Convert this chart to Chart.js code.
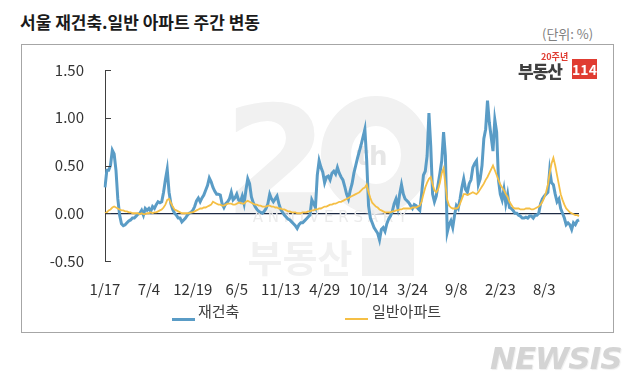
<!DOCTYPE html>
<html>
<head>
<meta charset="utf-8">
<script src="https://cdn.jsdelivr.net/npm/chart.js@4"></script>
<style>
  body { margin: 0; background: #fff; }
  #wrap { position: relative; width: 640px; height: 390px; overflow: hidden; font-family: "Noto Sans CJK KR", "Noto Sans", sans-serif; }
  #title { position: absolute; left: 20px; top: 9px; font-size: 17px; font-weight: bold; color: #1a1a1a; }
  #unit { position: absolute; left: 542px; top: 24px; font-size: 13px; color: #808080; }
  #box { position: absolute; left: 21px; top: 44px; width: 591px; height: 287px; border: 1px solid #a6a6a6; }
  #chart { position: absolute; left: 0; top: 0; }
  .lg-line { position: absolute; height: 3px; }
  .lg-text { position: absolute; font-size: 15px; color: #404040; }
  #logo20 { position: absolute; left: 541px; top: 50px; font-size: 9px; font-weight: bold; color: #e03c31; }
  #logoTxt { position: absolute; left: 518px; top: 58px; font-size: 17px; font-weight: 900; color: #3f3f3f; letter-spacing: -1px; }
  #logo114 { position: absolute; left: 572px; top: 59px; width: 25px; height: 20px; background: #e03c31; color: #fff; font-size: 14px; font-weight: bold; text-align: center; line-height: 20px; }
  #newsis { position: absolute; left: 490px; top: 340px; font-family: "DejaVu Sans", sans-serif; font-size: 31px; font-weight: bold; font-style: italic; color: #d4d4d4; letter-spacing: -1px; text-shadow: 1px 1px 1px #eee; }
</style>
</head>
<body>
<div id="wrap">
  <div id="title">서울 재건축.일반 아파트 주간 변동</div>
  <div id="unit">(단위: %)</div>
  <div id="box"></div>
  <canvas id="chart" width="640" height="390"></canvas>
  <div id="logo20">20주년</div>
  <div id="logoTxt">부동산</div>
  <div id="logo114">114</div>
  <div class="lg-line" style="left:172px; top:318px; width:23px; background:#5a9cc6;"></div>
  <div class="lg-text" style="left:198px; top:300px;">재건축</div>
  <div class="lg-line" style="left:345px; top:318px; width:23px; height:2px; background:#f5bf45;"></div>
  <div class="lg-text" style="left:372px; top:300px;">일반아파트</div>
  <div id="newsis">NEWSIS</div>
</div>
<script>
// 데이터
const tickLabels = ['1/17', '7/4', '12/19', '6/5', '11/13', '4/29', '10/14', '3/24', '9/8', '2/23', '8/3'];
const seriesNames = ['재건축', '일반아파트'];

const reconstruction = [
    0.27, 0.45, 0.45, 0.50, 0.66, 0.62, 0.45, 0.15, -0.02, -0.11,
    -0.13, -0.12, -0.10, -0.08, -0.07, -0.05, -0.05, -0.03, -0.01, 0.00,
    0.03, -0.02, 0.05, 0.03, 0.05, 0.02, 0.07, 0.05, 0.09, 0.12,
    0.11, 0.12, 0.22, 0.35, 0.46, 0.22, 0.10, 0.04, 0.00, -0.02,
    -0.05, -0.05, -0.09, -0.07, -0.05, -0.02, 0.00, 0.01, 0.03, 0.07,
    0.13, 0.16, 0.12, 0.16, 0.19, 0.24, 0.29, 0.37, 0.33, 0.27,
    0.23, 0.20, 0.20, 0.19, 0.10, 0.06, 0.10, 0.12, 0.15, 0.22,
    0.14, 0.16, 0.20, 0.14, 0.12, 0.18, 0.10, 0.24, 0.36, 0.31,
    0.17, 0.11, 0.07, 0.04, 0.02, 0.01, 0.00, 0.02, 0.05, 0.10,
    0.20, 0.15, 0.12, 0.15, 0.18, 0.10, 0.04, 0.01, -0.02, -0.04,
    -0.06, -0.07, -0.09, -0.11, -0.13, -0.16, -0.12, -0.10, -0.10, -0.08,
    -0.06, -0.04, -0.02, 0.14, 0.10, 0.06, 0.40, 0.55, 0.48, 0.43,
    0.32, 0.38, 0.39, 0.35, 0.42, 0.44, 0.41, 0.48, 0.42, 0.38,
    0.35, 0.28, 0.20, 0.15, 0.24, 0.31, 0.42, 0.50, 0.58, 0.65,
    0.72, 0.80, 0.88, 0.55, 0.08, -0.05, -0.10, -0.15, -0.18, -0.21,
    -0.28, -0.17, -0.15, -0.19, -0.11, -0.06, -0.03, 0.02, 0.10, 0.15,
    0.06, 0.20, 0.30, 0.20, 0.15, 0.13, 0.11, 0.08, 0.05, 0.09,
    0.08, 0.05, 0.03, 0.20, 0.40, 0.44, 0.60, 1.05, 0.70, 0.20,
    0.12, 0.18, 0.30, 0.42, 0.55, 0.85, 0.60, -0.20, -0.12, -0.08,
    -0.15, -0.02, 0.08, 0.05, 0.15, 0.27, 0.36, 0.25, 0.22, 0.31,
    0.35, 0.48, 0.52, 0.55, 0.30, 0.36, 0.50, 0.78, 0.88, 1.18,
    0.95, 0.80, 0.65, 0.98, 0.85, 0.35, 0.20, 0.14, 0.25, 0.10,
    0.20, 0.06, 0.05, 0.03, 0.00, 0.00, -0.02, -0.03, -0.05, -0.05,
    -0.04, -0.05, -0.03, -0.03, -0.05, -0.02, -0.02, 0.00, 0.10, 0.15,
    0.18, 0.20, 0.22, 0.45, 0.32, 0.30, 0.20, 0.12, 0.15, 0.05,
    0.00, -0.05, -0.12, -0.10, -0.12, -0.17, -0.10, -0.12, -0.08, -0.07
];

const apartment = [
    0.00, 0.01, 0.03, 0.04, 0.06, 0.07, 0.06, 0.05, 0.04, 0.03,
    0.03, 0.02, 0.02, 0.01, 0.01, 0.00, 0.00, 0.00, 0.00, -0.01,
    0.00, -0.01, -0.01, 0.00, 0.00, 0.01, 0.00, 0.01, 0.01, 0.02,
    0.03, 0.04, 0.06, 0.09, 0.14, 0.15, 0.11, 0.07, 0.04, 0.03,
    0.02, 0.01, 0.00, 0.00, 0.00, 0.00, 0.00, 0.01, 0.01, 0.02,
    0.03, 0.04, 0.05, 0.05, 0.06, 0.06, 0.07, 0.08, 0.09, 0.12,
    0.11, 0.10, 0.09, 0.09, 0.08, 0.08, 0.09, 0.10, 0.10, 0.10,
    0.09, 0.09, 0.10, 0.11, 0.11, 0.10, 0.10, 0.12, 0.13, 0.12,
    0.11, 0.10, 0.09, 0.09, 0.08, 0.08, 0.07, 0.07, 0.07, 0.08,
    0.08, 0.07, 0.07, 0.06, 0.06, 0.05, 0.05, 0.04, 0.04, 0.03,
    0.02, 0.02, 0.01, 0.01, 0.01, 0.00, 0.00, 0.00, 0.01, 0.01,
    0.01, 0.02, 0.02, 0.03, 0.03, 0.04, 0.04, 0.05, 0.05, 0.06,
    0.07, 0.07, 0.08, 0.09, 0.09, 0.10, 0.10, 0.11, 0.12, 0.12,
    0.13, 0.14, 0.15, 0.16, 0.17, 0.18, 0.19, 0.20, 0.21, 0.22,
    0.24, 0.26, 0.27, 0.30, 0.22, 0.16, 0.11, 0.09, 0.07, 0.06,
    0.04, 0.03, 0.02, 0.01, 0.01, 0.01, 0.01, 0.02, 0.02, 0.03,
    0.03, 0.04, 0.04, 0.05, 0.05, 0.05, 0.05, 0.05, 0.06, 0.06,
    0.06, 0.07, 0.08, 0.12, 0.20, 0.27, 0.32, 0.36, 0.38, 0.30,
    0.24, 0.22, 0.25, 0.32, 0.42, 0.47, 0.30, 0.14, 0.08, 0.06,
    0.05, 0.05, 0.05, 0.06, 0.10, 0.15, 0.20, 0.20, 0.19, 0.20,
    0.21, 0.22, 0.21, 0.20, 0.22, 0.25, 0.28, 0.31, 0.35, 0.38,
    0.42, 0.46, 0.50, 0.45, 0.40, 0.35, 0.30, 0.27, 0.24, 0.20,
    0.17, 0.12, 0.09, 0.06, 0.05, 0.05, 0.05, 0.04, 0.04, 0.04,
    0.05, 0.05, 0.05, 0.04, 0.04, 0.05, 0.06, 0.07, 0.09, 0.12,
    0.16, 0.22, 0.30, 0.42, 0.52, 0.58, 0.50, 0.40, 0.30, 0.20,
    0.14, 0.09, 0.05, 0.03, 0.01, 0.00, -0.01, -0.02, -0.02, -0.03
];

const yTicks = [-0.5, 0, 0.5, 1.0, 1.5];

// 카테고리 라벨: 24주마다 표시
const labels = reconstruction.map((v, i) => (i % 24 === 0 && tickLabels[i / 24]) ? tickLabels[i / 24] : '');

// 배경 워터마크
const watermarkPlugin = {
    id: 'watermark',
    beforeDatasetsDraw(chart) {
        const ctx = chart.ctx;
        ctx.save();
        ctx.fillStyle = '#f1f1f1';
        ctx.strokeStyle = '#f1f1f1';
        ctx.textAlign = 'center';
        ctx.textBaseline = 'alphabetic';
        ctx.font = 'bold 150px "DejaVu Sans"';
        ctx.fillText('2', 276, 213);
        ctx.lineWidth = 30;
        ctx.beginPath();
        ctx.ellipse(376, 155, 40, 44, 0, 0, Math.PI * 2);
        ctx.stroke();
        ctx.fillStyle = '#e6e6e6';
        ctx.font = 'bold 26px "DejaVu Sans"';
        ctx.fillText('th', 372, 165);
        ctx.fillStyle = '#ebebeb';
        ctx.font = '15px "DejaVu Sans"';
        ctx.fillText('A N N I V E R S A R Y', 330, 222);
        ctx.fillStyle = '#f1f1f1';
        ctx.font = 'bold 38px "Noto Sans CJK KR"';
        ctx.fillText('부동산', 300, 272);
        ctx.fillRect(362, 238, 52, 38);
        ctx.restore();
    }
};

// y축 안쪽 눈금
const innerTicksPlugin = {
    id: 'innerTicks',
    afterDraw(chart) {
        const ctx = chart.ctx;
        const y = chart.scales.y;
        ctx.save();
        ctx.strokeStyle = '#404040';
        ctx.lineWidth = 1;
        yTicks.forEach(v => {
            const py = Math.round(y.getPixelForValue(v)) + 0.5;
            ctx.beginPath();
            ctx.moveTo(y.right, py);
            ctx.lineTo(y.right + 6, py);
            ctx.stroke();
        });
        ctx.restore();
    }
};

const config = {
    type: 'line',
    data: {
        labels: labels,
        datasets: [
            {
                label: seriesNames[0],
                data: reconstruction,
                borderColor: '#5a9cc6',
                borderWidth: 3,
                pointRadius: 0,
                tension: 0,
                order: 2
            },
            {
                label: seriesNames[1],
                data: apartment,
                borderColor: '#f5bf45',
                borderWidth: 1.8,
                pointRadius: 0,
                tension: 0,
                order: 1
            }
        ]
    },
    options: {
        responsive: false,
        animation: false,
        devicePixelRatio: 1,
        layout: {
            padding: { left: 0, top: 70, right: 61, bottom: 0 }
        },
        plugins: {
            legend: { display: false },
            tooltip: { enabled: false }
        },
        scales: {
            x: {
                grid: { display: false, drawTicks: false },
                border: { display: false },
                ticks: {
                    autoSkip: false,
                    maxRotation: 0,
                    padding: 19,
                    color: '#333',
                    font: { family: '"Noto Sans CJK KR"', size: 15 }
                },
                afterFit(scale) { scale.height = 129; }
            },
            y: {
                min: -0.5,
                max: 1.5,
                afterBuildTicks(scale) { scale.ticks = yTicks.map(v => ({ value: v })); },
                grid: {
                    drawTicks: false,
                    color: ctx => ctx.tick && ctx.tick.value === 0 ? '#1e2b45' : 'transparent',
                    lineWidth: 1.3
                },
                border: { display: true, color: '#404040', width: 1 },
                ticks: {
                    padding: 21,
                    color: '#333',
                    font: { family: '"Noto Sans CJK KR"', size: 15 },
                    callback: v => v.toFixed(2)
                },
                afterFit(scale) { scale.width = 105; }
            }
        }
    },
    plugins: [watermarkPlugin, innerTicksPlugin]
};

new Chart(document.getElementById('chart').getContext('2d'), config);
</script>
</body>
</html>
